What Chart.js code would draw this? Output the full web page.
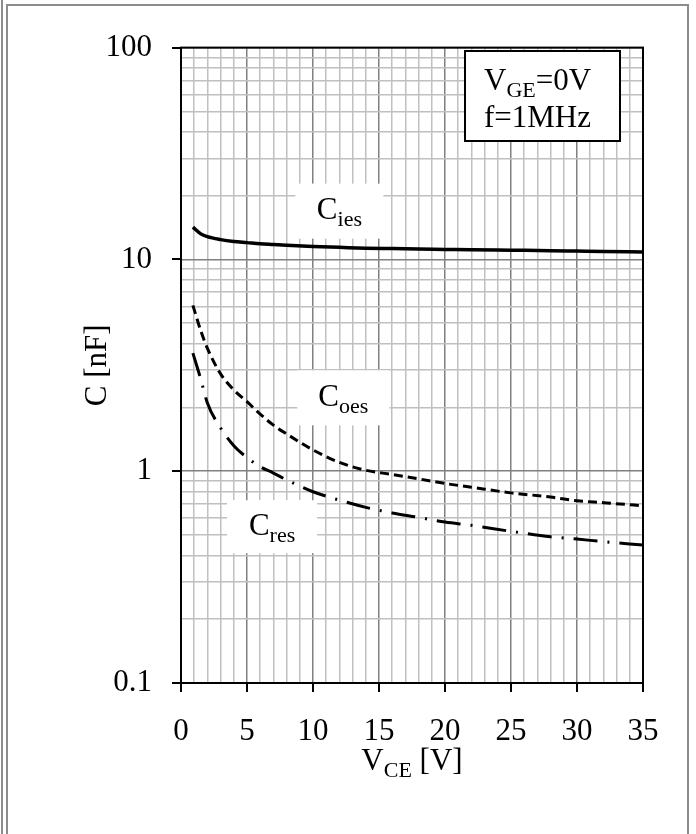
<!DOCTYPE html>
<html>
<head>
<meta charset="utf-8">
<script src="https://cdn.jsdelivr.net/npm/chart.js@4/dist/chart.umd.min.js"></script>
<style>
  html, body { margin: 0; padding: 0; background: #fff; }
  #wrap { width: 696px; height: 834px; }
</style>
</head>
<body>
<div id="wrap"><canvas id="chart" width="696" height="834"></canvas></div>
<script>
(function () {
    'use strict';

    // V_CE sample points [V]
    const vce   = [0.9, 1.5, 2, 3, 4, 5, 6, 7, 8, 10, 12, 14, 16, 18, 20, 22, 25, 28, 30, 32, 35];
    // capacitances [nF]
    const cies  = [14.2, 13.2, 12.8, 12.4, 12.15, 12.0, 11.85, 11.75, 11.65, 11.5, 11.4, 11.3, 11.25, 11.2, 11.15, 11.1, 11.05, 11.0, 10.95, 10.9, 10.85];
    const coes  = [6.07, 4.6, 3.8, 2.88, 2.42, 2.13, 1.86, 1.65, 1.5, 1.26, 1.1, 1.01, 0.965, 0.92, 0.875, 0.84, 0.79, 0.755, 0.725, 0.71, 0.687];
    const cres  = [3.61, 2.72, 2.1, 1.6, 1.32, 1.16, 1.05, 0.98, 0.91, 0.8, 0.73, 0.675, 0.635, 0.605, 0.575, 0.555, 0.52, 0.49, 0.478, 0.465, 0.448];

    const xTickLabels = ['0', '5', '10', '15', '20', '25', '30', '35'];
    const yTickLabels = ['0.1', '1', '10', '100'];

    const FONT = '"Liberation Serif", "Times New Roman", serif';
    const BIG  = 31;
    const SUB  = 22;

    const pts = ys => vce.map((x, i) => ({ x, y: ys[i] }));

    // every integer volt gets a grid line, labels only every 5 V
    const xGridVals = [];
    for (let v = 0; v <= 35; v++) xGridVals.push(v);
    // log grid: 1..9 per decade
    const yGridVals = [];
    [0.1, 1, 10].forEach(d => { for (let m = 1; m <= 9; m++) yGridVals.push(+(d * m).toPrecision(3)); });
    yGridVals.push(100);

    const xMajor = v => xTickLabels.includes(String(v));
    const yMajor = v => yTickLabels.includes(String(v));

    // text with subscripts: parts = [[text, sub?], ...]
    function drawRich(ctx, parts, x, y) {
        let cx = x;
        parts.forEach(([t, sub]) => {
            ctx.font = `${sub ? SUB : BIG}px ${FONT}`;
            ctx.fillText(t, cx, sub ? y + 7 : y);
            cx += ctx.measureText(t).width;
        });
        return cx - x;
    }
    function richWidth(ctx, parts) {
        let w = 0;
        parts.forEach(([t, sub]) => { ctx.font = `${sub ? SUB : BIG}px ${FONT}`; w += ctx.measureText(t).width; });
        return w;
    }

    // curve labels, placed in data coordinates
    const curveLabels = [
        { x: 12.0, y: 16.9, w: 88, h: 55, parts: [['C'], ['ies', true]] },
        { x: 12.3, y: 2.22, w: 92, h: 55, parts: [['C'], ['oes', true]] },
        { x: 6.9,  y: 0.547, w: 90, h: 53, parts: [['C'], ['res', true]] },
    ];

    const decor = {
        id: 'decor',
        beforeDraw(chart) {
            const ctx = chart.ctx;
            ctx.save();
            ctx.fillStyle = '#fff';
            ctx.fillRect(0, 0, chart.width, chart.height);
            ctx.restore();
        },
        afterDatasetsDraw(chart) {
            const ctx = chart.ctx;
            const { left, right, top, bottom } = chart.chartArea;
            const xs = chart.scales.x, ys = chart.scales.y;
            ctx.save();

            // curve labels on white
            ctx.textBaseline = 'alphabetic';
            curveLabels.forEach(l => {
                const px = xs.getPixelForValue(l.x), py = ys.getPixelForValue(l.y);
                ctx.fillStyle = '#fff';
                ctx.fillRect(px - l.w / 2, py - l.h / 2, l.w, l.h);
                ctx.fillStyle = '#000';
                const w = richWidth(ctx, l.parts);
                drawRich(ctx, l.parts, px - w / 2, py + 8);
            });

            // condition box
            const bx = 465, by = 51, bw = 155, bh = 90;
            ctx.fillStyle = '#fff';
            ctx.fillRect(bx, by, bw, bh);
            ctx.strokeStyle = '#000';
            ctx.lineWidth = 2;
            ctx.strokeRect(bx, by, bw, bh);
            ctx.fillStyle = '#000';
            drawRich(ctx, [['V'], ['GE', true], ['=0V']], bx + 19, by + 39);
            drawRich(ctx, [['f=1MHz']], bx + 19, by + 76);

            // plot frame
            ctx.strokeStyle = '#000';
            ctx.lineWidth = 2;
            ctx.strokeRect(left, top, right - left, bottom - top);

            // tick marks (outside)
            ctx.beginPath();
            yGridVals.filter(yMajor).forEach(v => {
                const py = Math.round(ys.getPixelForValue(v));
                ctx.moveTo(left - 9, py); ctx.lineTo(left, py);
            });
            xGridVals.filter(xMajor).forEach(v => {
                const px = Math.round(xs.getPixelForValue(v));
                ctx.moveTo(px, bottom); ctx.lineTo(px, bottom + 9);
            });
            ctx.stroke();

            // axis titles
            ctx.fillStyle = '#000';
            const xt = [['V'], ['CE', true], [' [V]']];
            const tw = richWidth(ctx, xt);
            drawRich(ctx, xt, (left + right) / 2 - tw / 2, 770);

            ctx.save();
            ctx.translate(106, (top + bottom) / 2);
            ctx.rotate(-Math.PI / 2);
            ctx.font = `${BIG}px ${FONT}`;
            ctx.textAlign = 'center';
            ctx.fillText('C [nF]', 0, 0);
            ctx.restore();

            // outer page frame
            ctx.strokeStyle = '#8c8c8c';
            ctx.lineWidth = 2;
            ctx.beginPath();
            ctx.moveTo(2, 0); ctx.lineTo(2, chart.height);
            ctx.moveTo(7, chart.height); ctx.lineTo(7, 5); ctx.lineTo(688, 5); ctx.lineTo(688, chart.height);
            ctx.stroke();

            ctx.restore();
        },
    };

    new Chart(document.getElementById('chart'), {
        type: 'line',
        data: {
            datasets: [
                { label: 'Cies', data: pts(cies), borderColor: '#000', borderWidth: 3.5, pointRadius: 0, cubicInterpolationMode: 'monotone' },
                { label: 'Coes', data: pts(coes), borderColor: '#000', borderWidth: 3, borderDash: [9, 5], pointRadius: 0, cubicInterpolationMode: 'monotone' },
                { label: 'Cres', data: pts(cres), borderColor: '#000', borderWidth: 3, borderDash: [24, 10, 2, 10], pointRadius: 0, cubicInterpolationMode: 'monotone' },
            ],
        },
        options: {
            responsive: false,
            animation: false,
            devicePixelRatio: 1,
            layout: { padding: { left: 0, top: 36, right: 53, bottom: 0 } },
            plugins: { legend: { display: false }, tooltip: { enabled: false } },
            scales: {
                x: {
                    type: 'linear',
                    min: 0, max: 35,
                    afterBuildTicks: s => { s.ticks = xGridVals.map(v => ({ value: v })); },
                    afterFit: s => { s.height = 151; },
                    grid: {
                        drawTicks: false,
                        color: c => xMajor(c.tick.value) ? '#808080' : '#c0c0c0',
                        lineWidth: 1.5,
                    },
                    border: { display: false },
                    ticks: {
                        autoSkip: false, maxRotation: 0, padding: 30,
                        color: '#000',
                        font: { family: FONT, size: BIG },
                        callback: v => xMajor(v) ? String(v) : '',
                    },
                },
                y: {
                    type: 'logarithmic',
                    min: 0.1, max: 100,
                    afterBuildTicks: s => { s.ticks = yGridVals.map(v => ({ value: v })); },
                    afterFit: s => { s.width = 181; },
                    grid: {
                        drawTicks: false,
                        color: c => yMajor(String(c.tick.value)) ? '#808080' : '#c0c0c0',
                        lineWidth: 1.5,
                    },
                    border: { display: false },
                    ticks: {
                        autoSkip: false, padding: 29,
                        color: '#000',
                        font: { family: FONT, size: BIG },
                        callback: v => yMajor(String(v)) ? String(v) : '',
                    },
                },
            },
        },
        plugins: [decor],
    });
})();
</script>
</body>
</html>
